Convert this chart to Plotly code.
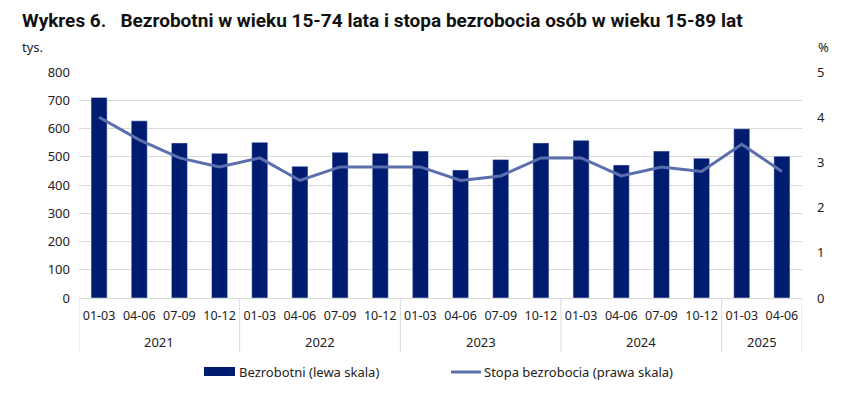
import plotly.graph_objects as go

years = ["2021"]*4 + ["2022"]*4 + ["2023"]*4 + ["2024"]*4 + ["2025"]*2
quarters = ["01-03", "04-06", "07-09", "10-12"]*4 + ["01-03", "04-06"]
unemployed = [710, 627, 549, 512, 551, 466, 516, 512, 520, 453, 490, 549, 558, 471, 520, 495, 599, 502]
rate = [4.0, 3.5, 3.1, 2.9, 3.1, 2.6, 2.9, 2.9, 2.9, 2.6, 2.7, 3.1, 3.1, 2.7, 2.9, 2.8, 3.4, 2.8]
bar_name = "Bezrobotni (lewa skala)"
line_name = "Stopa bezrobocia (prawa skala)"

FONT = "Noto Sans"
BAR_C = "#001C71"
LINE_C = "#5B6FAE"
GRID_C = "#d9d9d9"
idx = list(range(len(quarters)))

fig = go.Figure()
fig.add_trace(go.Bar(x=idx, y=unemployed, name=bar_name,
                     marker=dict(color=BAR_C), width=0.4, showlegend=False))
fig.add_trace(go.Scatter(x=idx, y=rate, name=line_name, showlegend=False,
                         mode="lines", yaxis="y2", line=dict(color=LINE_C, width=3)))

OFF = 8  # page body margin
W, H = 857 - OFF, 399 - OFF
L, R, T, B = 79 - OFF, 55, 72 - OFF, 101
pw, ph = W - L - R, H - T - B
def px(x):
    return (x - OFF - L) / pw
def py(y):
    return (H - B - (y - OFF)) / ph

fig.update_layout(
    width=W, height=H,
    margin=dict(l=L, r=R, t=T, b=B),
    paper_bgcolor="white", plot_bgcolor="white",
    font=dict(family=FONT, size=13, color="#222"),
    showlegend=False,
    xaxis=dict(range=[-0.5, len(idx) - 0.5], tickvals=idx, ticktext=quarters,
               showline=True, linecolor=GRID_C, showgrid=False, zeroline=False, automargin=False,
               tickfont=dict(size=12.5), tickangle=0, ticks="", ticklabelstandoff=6),
    yaxis=dict(range=[0, 800], dtick=100, gridcolor=GRID_C, gridwidth=1, automargin=False,
               zeroline=False, tickfont=dict(size=13), ticklabelstandoff=8),
    yaxis2=dict(range=[0, 5], dtick=1, overlaying="y", side="right", showgrid=False,
                automargin=False, zeroline=False, tickfont=dict(size=13), ticklabelstandoff=14),
)

# year group labels and dividers
groups = []
for i, yv in enumerate(years):
    if not groups or groups[-1][0] != yv:
        groups.append([yv, i, i])
    else:
        groups[-1][2] = i
bounds = [-0.5] + [g[2] + 0.5 for g in groups]
for b in bounds:
    fig.add_shape(type="line", xref="x", yref="paper", x0=b, x1=b, y0=py(298), y1=py(352),
                  line=dict(color=GRID_C, width=1))
for yv, a, b in groups:
    fig.add_annotation(text=yv, xref="x", yref="paper", x=(a + b) / 2, y=py(342),
                       xanchor="center", yanchor="middle", showarrow=False, font=dict(size=13))

fig.add_annotation(text="<b>Wykres 6.   Bezrobotni w wieku 15-74 lata i stopa bezrobocia osób w wieku 15-89 lat</b>",
                   xref="paper", yref="paper", x=px(20), y=py(21), xanchor="left", yanchor="middle",
                   showarrow=False, font=dict(size=19, color="#111", family="Roboto"))
fig.add_annotation(text="tys.", xref="paper", yref="paper", x=px(20), y=py(47),
                   xanchor="left", yanchor="middle", showarrow=False, font=dict(size=13))
fig.add_annotation(text="%", xref="paper", yref="paper", x=px(824), y=py(47),
                   xanchor="center", yanchor="middle", showarrow=False, font=dict(size=13))
# legend
fig.add_shape(type="rect", xref="paper", yref="paper", x0=px(204), x1=px(235), y0=py(376), y1=py(367),
              fillcolor=BAR_C, line=dict(width=0))
fig.add_annotation(text=bar_name, xref="paper", yref="paper", x=px(237), y=py(372),
                   xanchor="left", yanchor="middle", showarrow=False, font=dict(size=13))
fig.add_shape(type="line", xref="paper", yref="paper", x0=px(451), x1=px(481), y0=py(372), y1=py(372),
              line=dict(color=LINE_C, width=3))
fig.add_annotation(text=line_name, xref="paper", yref="paper", x=px(482), y=py(372),
                   xanchor="left", yanchor="middle", showarrow=False, font=dict(size=13))
fig.add_shape(type="rect", xref="paper", yref="paper", x0=px(852), x1=px(857), y0=py(399), y1=py(0),
              fillcolor="#eeeeee", line=dict(width=0), layer="below")
fig.write_html("out.html")
